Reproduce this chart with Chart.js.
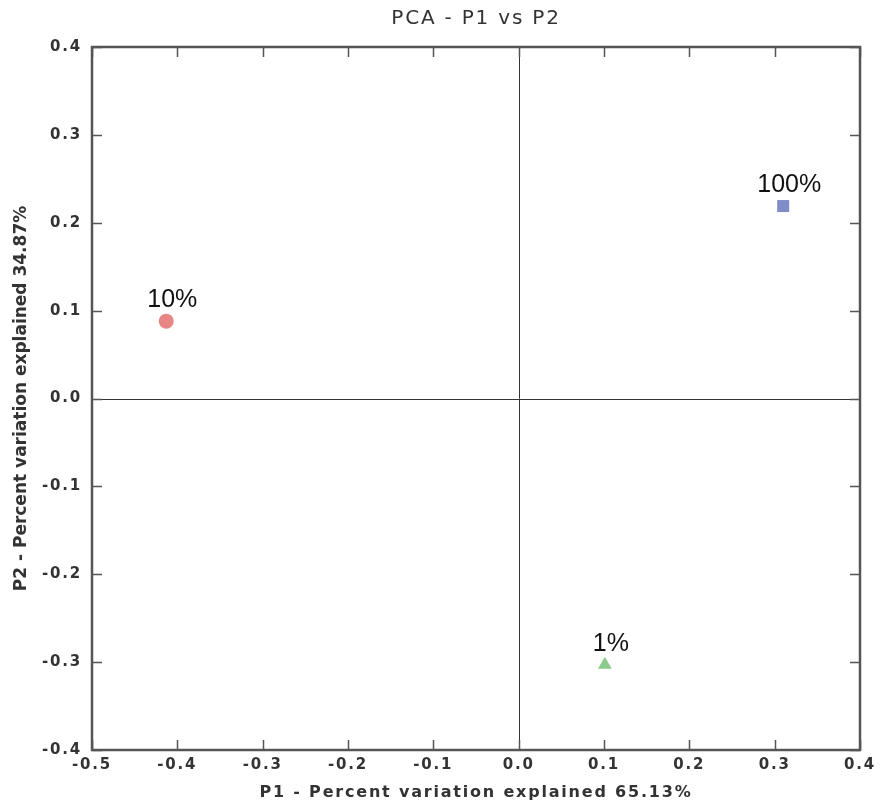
<!DOCTYPE html>
<html lang="en">
<head>
  <meta charset="UTF-8">
  <title>PCA - P1 vs P2</title>
  <script src="https://cdn.jsdelivr.net/npm/chart.js"></script>
  <style>
    html, body { margin: 0; padding: 0; background: #fff; }
    #wrap { width: 880px; height: 810px; }
  </style>
</head>
<body>
  <div id="wrap"><canvas id="chart" width="880" height="810"></canvas></div>

  <script>
    // samples and their PCA coordinates
    const sampleLabels = ['10%', '100%', '1%'];
    const p1Values = [-0.413, 0.310, 0.101];
    const p2Values = [0.088, 0.219, -0.303];

    const xTicks = [-0.5, -0.4, -0.3, -0.2, -0.1, 0.0, 0.1, 0.2, 0.3, 0.4];
    const yTicks = [-0.4, -0.3, -0.2, -0.1, 0.0, 0.1, 0.2, 0.3, 0.4];

    const xTitle = 'P1 - Percent variation explained 65.13%';
    const yTitle = 'P2 - Percent variation explained 34.87%';

    const tickFont = { family: 'DejaVu Sans', size: 15, weight: 'bold' };
    const grey = '#333';

    const framePlugin = {
      id: 'frame',
      beforeDraw(chart) {
        // the horizontal texts of the original look spread out
        chart.ctx.letterSpacing = '1.8px';
      },
      beforeDatasetsDraw(chart) {
        const ctx = chart.ctx;
        ctx.letterSpacing = '0px';
        const a = chart.chartArea;
        const xs = chart.scales.x, ys = chart.scales.y;
        ctx.save();
        // zero lines
        ctx.strokeStyle = '#333';
        ctx.lineWidth = 1;
        ctx.beginPath();
        const x0 = Math.round(xs.getPixelForValue(0)) + 0.5;
        const y0 = Math.round(ys.getPixelForValue(0)) + 0.5;
        ctx.moveTo(x0, a.top); ctx.lineTo(x0, a.bottom);
        ctx.moveTo(a.left, y0); ctx.lineTo(a.right, y0);
        ctx.stroke();
        // inward ticks on all four sides
        ctx.strokeStyle = '#555';
        ctx.lineWidth = 1.5;
        ctx.beginPath();
        xTicks.forEach(v => {
          const px = Math.round(xs.getPixelForValue(v)) + 0.5;
          ctx.moveTo(px, a.bottom); ctx.lineTo(px, a.bottom - 10);
          ctx.moveTo(px, a.top); ctx.lineTo(px, a.top + 10);
        });
        yTicks.forEach(v => {
          const py = Math.round(ys.getPixelForValue(v)) + 0.5;
          ctx.moveTo(a.left, py); ctx.lineTo(a.left + 10, py);
          ctx.moveTo(a.right, py); ctx.lineTo(a.right - 10, py);
        });
        ctx.stroke();
        // frame
        ctx.lineWidth = 2.5;
        ctx.strokeStyle = '#555';
        ctx.strokeRect(a.left, a.top, a.right - a.left, a.bottom - a.top);
        // vertical axis title
        ctx.translate(22, (a.top + a.bottom) / 2);
        ctx.rotate(-Math.PI / 2);
        ctx.font = 'bold 17px "DejaVu Sans"';
        ctx.fillStyle = grey;
        ctx.textAlign = 'center';
        ctx.textBaseline = 'middle';
        ctx.fillText(yTitle, 0, 0);
        ctx.restore();
      },
      afterDatasetsDraw(chart) {
        const ctx = chart.ctx;
        const meta = chart.getDatasetMeta(0);
        ctx.save();
        ctx.letterSpacing = '0px';
        ctx.font = '25px "Liberation Sans", Arial, sans-serif';
        ctx.fillStyle = '#111';
        ctx.textAlign = 'center';
        ctx.textBaseline = 'alphabetic';
        meta.data.forEach((pt, i) => {
          ctx.fillText(sampleLabels[i], pt.x + 6, pt.y - 14);
        });
        ctx.restore();
      }
    };

    new Chart(document.getElementById('chart'), {
      type: 'scatter',
      data: {
        datasets: [{
          data: p1Values.map((v, i) => ({ x: v, y: p2Values[i] })),
          pointStyle: ['circle', 'rect', 'triangle'],
          pointRadius: [7.5, 8.5, 8],
          pointHoverRadius: [7.5, 8.5, 8],
          pointBackgroundColor: ['#e88585', '#7f8cc8', '#8acb8a'],
          pointBorderColor: ['#e88585', '#7f8cc8', '#8acb8a'],
          pointBorderWidth: 0
        }]
      },
      options: {
        responsive: false,
        animation: false,
        layout: { padding: { left: 0, right: 20, top: 0, bottom: 0 } },
        plugins: {
          legend: { display: false },
          tooltip: { enabled: false },
          title: {
            display: true,
            fullSize: false,
            text: 'PCA - P1 vs P2',
            color: '#333',
            font: { family: 'DejaVu Sans', size: 20, weight: 'normal' },
            padding: { top: 7, bottom: 16 }
          }
        },
        scales: {
          x: {
            type: 'linear',
            min: -0.5, max: 0.4,
            afterBuildTicks: s => { s.ticks = xTicks.map(v => ({ value: v })); },
            afterFit: s => { s.height = 60; },
            grid: { display: false, drawTicks: false },
            border: { display: false },
            ticks: {
              color: grey, font: tickFont, padding: 6,
              callback: v => v.toFixed(1)
            },
            title: {
              display: true,
              text: xTitle,
              color: grey,
              font: { family: 'DejaVu Sans', size: 16, weight: 'bold' },
              padding: { top: 2, bottom: 8 }
            }
          },
          y: {
            type: 'linear',
            min: -0.4, max: 0.4,
            afterBuildTicks: s => { s.ticks = yTicks.map(v => ({ value: v })); },
            afterFit: s => { s.width = 92; },
            grid: { display: false, drawTicks: false },
            border: { display: false },
            ticks: {
              color: grey, font: tickFont, padding: 10,
              callback: v => v.toFixed(1)
            },
            title: { display: false }
          }
        }
      },
      plugins: [framePlugin]
    });
  </script>
</body>
</html>
